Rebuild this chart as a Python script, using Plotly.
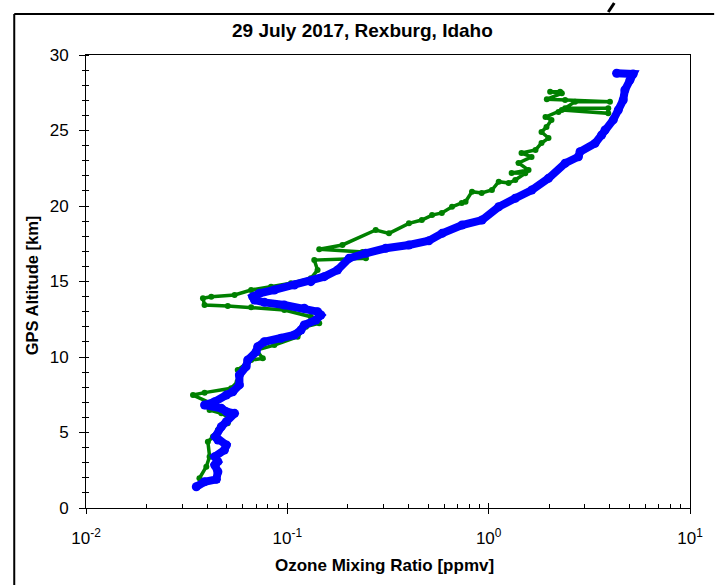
import plotly.graph_objects as go

# Ozone profile 1 (blue): mixing ratio [ppmv] vs GPS altitude [km]
blue_o3 = [0.0353, 0.0388, 0.0444, 0.0452, 0.0436, 0.0452, 0.0436, 0.0487, 0.0498, 0.0452,
           0.0439, 0.0470, 0.0498, 0.0547, 0.0498, 0.0470, 0.0388, 0.0436, 0.0498, 0.0536,
           0.0578, 0.0578, 0.0624, 0.0636, 0.0700, 0.0713, 0.0769, 0.0931, 0.1083, 0.1169,
           0.1214, 0.1387, 0.1468, 0.1413, 0.1214, 0.0966, 0.0769, 0.0687, 0.0673, 0.0727,
           0.0862, 0.1083, 0.1309, 0.1524, 0.1775, 0.2028, 0.2455, 0.3083, 0.4018, 0.5047,
           0.5875, 0.7379, 0.9268, 1.122, 1.356, 1.638, 1.982, 2.397, 2.790, 2.844,
           3.375, 3.640, 3.784, 4.156, 4.404, 4.658, 4.750, 5.030, 5.220, 4.320]
blue_alt = [1.41, 1.74, 1.90, 2.40, 2.85, 3.07, 3.40, 3.84, 4.17, 4.50,
            4.72, 5.38, 5.72, 6.27, 6.38, 6.60, 6.82, 7.04, 7.48, 7.70,
            8.15, 8.81, 9.36, 9.80, 10.35, 10.68, 11.01, 11.24, 11.46, 11.79,
            12.12, 12.45, 12.78, 13.00, 13.23, 13.44, 13.62, 13.77, 13.99, 14.22,
            14.44, 14.77, 14.99, 15.32, 15.76, 16.54, 16.87, 17.20, 17.42, 17.70,
            18.19, 18.74, 19.07, 19.95, 20.51, 21.06, 21.83, 22.83, 23.26, 23.60,
            24.15, 24.70, 25.03, 25.70, 26.36, 27.02, 27.68, 28.34, 28.74, 28.79]

# Ozone profile 2 (green)
green_o3 = [0.0366, 0.0396, 0.0411, 0.0403, 0.0427, 0.0452, 0.0506, 0.0506, 0.0470, 0.0411,
            0.0436, 0.0340, 0.0388, 0.0526, 0.0566, 0.0567, 0.0661, 0.0755, 0.0703, 0.0862,
            0.1125, 0.1238, 0.1440, 0.1309, 0.0966, 0.0661, 0.0506, 0.0388, 0.0381, 0.0419,
            0.0547, 0.0661, 0.0830, 0.1043, 0.1309, 0.1413, 0.1361, 0.2455, 0.2362, 0.1440,
            0.1878, 0.2748, 0.3199, 0.4018, 0.4656, 0.5236, 0.5853, 0.6577, 0.7350, 0.7677,
            0.8262, 0.9230, 1.038, 1.122, 1.256, 1.356, 1.520, 1.300, 1.578, 1.408,
            1.633, 1.456, 1.709, 1.830, 1.982, 1.830, 1.937, 2.051, 1.915, 2.222,
            2.309, 3.926, 3.926, 2.397, 2.687, 4.003, 2.397, 1.945, 2.309, 2.020,
            2.265]
green_alt = [1.97, 2.74, 3.40, 4.39, 4.72, 5.17, 5.61, 6.05, 6.27, 6.49,
             6.82, 7.48, 7.64, 7.93, 8.36, 9.14, 9.80, 9.91, 10.46, 10.79,
             11.34, 12.01, 12.23, 12.67, 13.11, 13.29, 13.38, 13.44, 13.89, 13.99,
             14.11, 14.44, 14.66, 14.88, 15.21, 15.76, 16.42, 16.54, 16.95, 17.13,
             17.42, 18.41, 18.19, 18.85, 19.07, 19.40, 19.54, 19.95, 20.20, 20.28,
             20.95, 20.86, 21.06, 21.61, 21.52, 21.72, 22.17, 22.19, 22.38, 22.85,
             23.25, 23.51, 23.71, 24.17, 24.50, 24.90, 25.23, 25.70, 25.89, 26.23,
             26.36, 26.14, 26.47, 26.47, 26.91, 26.91, 27.02, 27.07, 27.46, 27.57,
             27.57]

x_tick_vals = [0.01, 0.1, 1, 10]
x_tick_text = ["10<sup>-2</sup>", "10<sup>-1</sup>", "10<sup>0</sup>", "10<sup>1</sup>"]
x_minor_vals = [m * 10.0 ** e for e in (-2, -1, 0) for m in range(2, 10)]
y_tick_vals = [0, 5, 10, 15, 20, 25, 30]

FONT = "Liberation Sans, Arial, sans-serif"

fig = go.Figure()
fig.add_trace(go.Scatter(
    x=green_o3, y=green_alt, mode="lines+markers",
    line=dict(color="#008000", width=3.5),
    marker=dict(color="#008000", size=6),
    showlegend=False,
))
fig.add_trace(go.Scatter(
    x=blue_o3, y=blue_alt, mode="lines+markers",
    line=dict(color="#0000FF", width=8),
    marker=dict(color="#0000FF", size=9),
    showlegend=False,
))
# invisible trace to host the overlay axes that complete the crossing ticks
fig.add_trace(go.Scatter(x=[0.5], y=[15], xaxis="x2", yaxis="y2",
                         mode="markers", marker=dict(opacity=0),
                         showlegend=False, hoverinfo="skip"))

fig.update_layout(
    width=715, height=585,
    margin=dict(l=86, r=23, t=55, b=77),
    paper_bgcolor="white", plot_bgcolor="white",
    font=dict(family=FONT, color="black"),
    xaxis=dict(
        type="log", range=[-2, 1],
        tickmode="array", tickvals=x_tick_vals, ticktext=x_tick_text,
        ticks="outside", ticklen=5, tickwidth=1, tickcolor="black",
        minor=dict(tickmode="array", tickvals=x_minor_vals, ticks="inside",
                   ticklen=4, tickcolor="black", showgrid=False),
        showline=True, linecolor="black", linewidth=1, mirror=True,
        showgrid=False, zeroline=False,
        tickfont=dict(size=17), ticklabelstandoff=10,
    ),
    yaxis=dict(
        range=[0, 30],
        tickmode="array", tickvals=y_tick_vals,
        ticks="outside", ticklen=6, tickwidth=1, tickcolor="black",
        minor=dict(dtick=1, ticks="inside", ticklen=3, tickcolor="black",
                   showgrid=False),
        showline=True, linecolor="black", linewidth=1, mirror=True,
        showgrid=False, zeroline=False,
        tickfont=dict(size=17), ticklabelstandoff=7,
    ),
    xaxis2=dict(
        type="log", range=[-2, 1], overlaying="x",
        tickmode="array", tickvals=x_tick_vals, showticklabels=False,
        ticks="inside", ticklen=5, tickcolor="black",
        showline=False, showgrid=False, zeroline=False,
    ),
    yaxis2=dict(
        range=[0, 30], overlaying="y",
        tickmode="array", tickvals=list(range(0, 31)), showticklabels=False,
        ticks="outside", ticklen=3, tickcolor="black",
        showline=False, showgrid=False, zeroline=False,
    ),
    annotations=[
        dict(text="<b>29 July 2017, Rexburg, Idaho</b>", xref="paper", yref="paper",
             x=0.457, y=1.053, xanchor="center", yanchor="middle",
             showarrow=False, font=dict(size=19)),
        dict(text="<b>GPS Altitude [km]</b>", xref="paper", yref="paper",
             x=-0.0891, y=0.492, xanchor="center", yanchor="middle", textangle=-90,
             showarrow=False, font=dict(size=16.5)),
        dict(text="<b>Ozone Mixing Ratio [ppmv]</b>", xref="paper", yref="paper",
             x=0.495, y=-0.128, xanchor="center", yanchor="middle",
             showarrow=False, font=dict(size=17)),
    ],
    shapes=[
        # outer frame
        dict(type="line", xref="paper", yref="paper", x0=-0.1188, x1=1.04,
             y0=1.0905, y1=1.0905, line=dict(color="black", width=2)),
        dict(type="line", xref="paper", yref="paper", x0=-0.1188, x1=-0.1188,
             y0=1.0905, y1=-0.18, line=dict(color="black", width=2)),
        # stroke of a cut-off heading above the frame
        dict(type="line", xref="paper", yref="paper", x0=0.8647, x1=0.8746,
             y0=1.0949, y1=1.1148, line=dict(color="black", width=3)),
    ],
)

fig.write_html("out.html")
